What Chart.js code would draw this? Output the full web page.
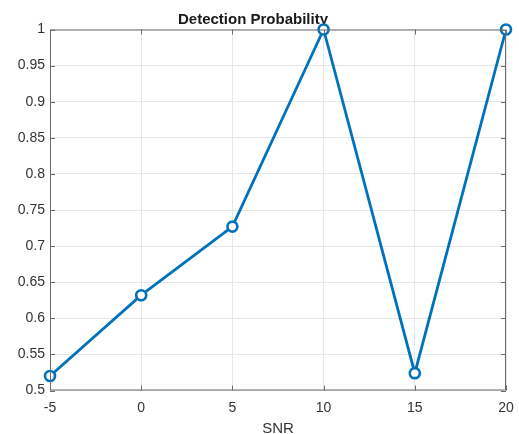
<!DOCTYPE html>
<html>
<head>
<meta charset="utf-8">
<script src="https://cdn.jsdelivr.net/npm/chart.js@4/dist/chart.umd.min.js"></script>
<style>
  html, body { margin: 0; padding: 0; background: #fff; }
  #wrap { width: 519px; height: 434px; }
</style>
</head>
<body>
<div id="wrap"><canvas id="chart" width="519" height="434"></canvas></div>
<script>
// data
const snr = [-5, 0, 5, 10, 15, 20];
const detectionProb = [0.520, 0.632, 0.727, 1.0, 0.524, 1.0];
const xTicks = [-5, 0, 5, 10, 15, 20];
const yTicks = [0.5, 0.55, 0.6, 0.65, 0.7, 0.75, 0.8, 0.85, 0.9, 0.95, 1];

const axisColor = '#6b6b6b';
const textColor = '#333333';
const font = 'Liberation Sans, Arial, Helvetica, sans-serif';

// MATLAB style box with inward ticks on all four sides
const boxPlugin = {
    id: 'boxTicks',
    afterDatasetsDraw(chart) {
        const { ctx, chartArea: a, scales } = chart;
        const len = 5;
        ctx.save();
        ctx.strokeStyle = axisColor;
        ctx.lineWidth = 1;
        ctx.beginPath();
        ctx.rect(a.left + 0.5, a.top + 0.5, a.right - a.left - 1, a.bottom - a.top - 1);
        xTicks.forEach(v => {
            const x = Math.round(scales.x.getPixelForValue(v)) + 0.5;
            ctx.moveTo(x, a.bottom); ctx.lineTo(x, a.bottom - len);
            ctx.moveTo(x, a.top); ctx.lineTo(x, a.top + len);
        });
        yTicks.forEach(v => {
            const y = Math.round(scales.y.getPixelForValue(v)) + 0.5;
            ctx.moveTo(a.left, y); ctx.lineTo(a.left + len, y);
            ctx.moveTo(a.right, y); ctx.lineTo(a.right - len, y);
        });
        ctx.stroke();
        ctx.restore();
    }
};

new Chart(document.getElementById('chart'), {
    type: 'line',
    data: {
        datasets: [{
            data: snr.map((x, i) => ({ x, y: detectionProb[i] })),
            borderColor: '#0072BD',
            borderWidth: 2.8,
            tension: 0,
            clip: false,
            pointStyle: 'circle',
            pointRadius: 5,
            pointBorderWidth: 2.6,
            pointBorderColor: '#0072BD',
            pointBackgroundColor: '#ffffff'
        }]
    },
    options: {
        responsive: false,
        animation: false,
        layout: { padding: { left: 0, right: 13, top: 0, bottom: 0 } },
        plugins: {
            legend: { display: false },
            tooltip: { enabled: false },
            title: {
                display: true,
                text: 'Detection Probability',
                color: '#1a1a1a',
                font: { family: font, size: 15, weight: 'bold' },
                padding: { top: 10.5, bottom: 1 }
            }
        },
        scales: {
            x: {
                type: 'linear',
                min: -5, max: 20,
                afterBuildTicks: s => { s.ticks = xTicks.map(v => ({ value: v })); },
                afterFit: s => { s.height = 43.5; s.paddingLeft = 0; s.paddingRight = 0; },
                ticks: { color: textColor, font: { family: font, size: 14 }, padding: 9, maxRotation: 0 },
                grid: { color: '#e6e6e6', drawTicks: false },
                border: { display: false },
                title: {
                    display: true, text: 'SNR', color: textColor,
                    font: { family: font, size: 15 }, padding: { top: 0, bottom: -4 }
                }
            },
            y: {
                type: 'linear',
                min: 0.5, max: 1,
                afterBuildTicks: s => { s.ticks = yTicks.map(v => ({ value: v })); },
                afterFit: s => { s.width = 50; s.paddingTop = 0; s.paddingBottom = 0; },
                ticks: {
                    color: textColor, font: { family: font, size: 14 }, padding: 5,
                    callback: v => String(+v.toFixed(2))
                },
                grid: { color: '#e6e6e6', drawTicks: false },
                border: { display: false }
            }
        }
    },
    plugins: [boxPlugin]
});
</script>
</body>
</html>
